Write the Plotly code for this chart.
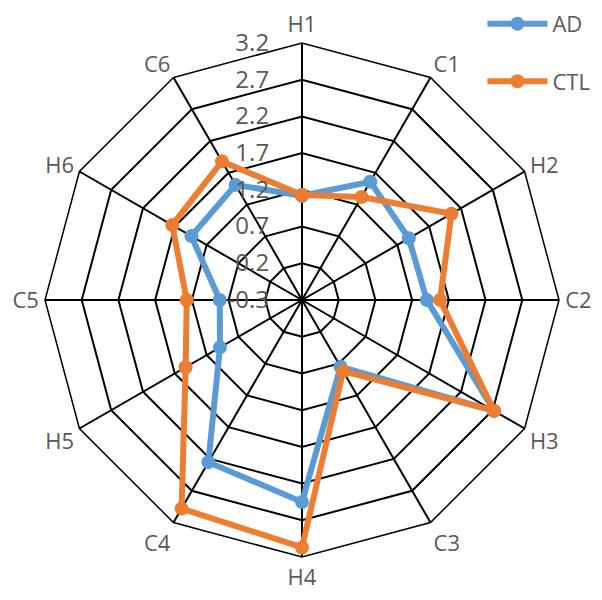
import plotly.graph_objects as go

categories = ['H1', 'C1', 'H2', 'C2', 'H3', 'C3', 'H4', 'C4', 'H5', 'C5', 'H6', 'C6']
ad_values = [1.12, 1.56, 1.38, 1.40, 2.72, 0.75, 2.45, 2.25, 0.99, 0.82, 1.44, 1.51]
ctl_values = [1.13, 1.32, 2.05, 1.58, 2.72, 0.82, 3.07, 2.98, 1.53, 1.27, 1.74, 1.88]
tick_vals = [-0.3, 0.2, 0.7, 1.2, 1.7, 2.2, 2.7, 3.2]

AD_COLOR = '#5B9BD5'
CTL_COLOR = '#ED7D31'
FONT = 'Open Sans'

fig = go.Figure()

for name, vals, color in [('AD', ad_values, AD_COLOR), ('CTL', ctl_values, CTL_COLOR)]:
    # close the loop by repeating the first point
    fig.add_trace(go.Scatterpolar(
        r=vals + vals[:1],
        theta=categories + categories[:1],
        name=name,
        legendgroup=name,
        mode='lines+markers',
        line=dict(color=color, width=6),
        marker=dict(color=color, size=14),
    ))

# the page has an 8px body margin, so margins are shifted by -8
fig.update_layout(
    width=602, height=600,
    margin=dict(l=37, r=51, t=35, b=51, autoexpand=False),
    paper_bgcolor='white',
    font=dict(family=FONT, size=23, color='#595959'),
    polar=dict(
        bgcolor='white',
        gridshape='linear',
        domain=dict(x=[0, 1], y=[0, 1]),
        angularaxis=dict(
            direction='clockwise',
            rotation=90,
            gridcolor='black',
            gridwidth=1.5,
            linecolor='black',
            linewidth=1.5,
            showline=True,
            ticks='outside',
            ticklen=1,
            tickcolor='rgba(0,0,0,0)',
            tickfont=dict(size=22, color='#595959'),
        ),
        radialaxis=dict(
            range=[-0.3, 3.2],
            tickvals=tick_vals,
            ticktext=[f'{v:.1f}' for v in tick_vals],
            angle=90,
            tickangle=90,
            side='counterclockwise',
            showline=False,
            gridcolor='black',
            gridwidth=1.5,
            ticks='outside',
            ticklen=24,
            tickcolor='rgba(0,0,0,0)',
            tickfont=dict(size=24, color='#595959'),
        ),
    ),
    showlegend=True,
    legend=dict(
        x=0.851, y=1.078, xanchor='left', yanchor='top',
        tracegroupgap=26,
        itemwidth=60,
        font=dict(size=22, color='#595959'),
        bgcolor='rgba(0,0,0,0)',
    ),
)

fig.write_html('out.html')
